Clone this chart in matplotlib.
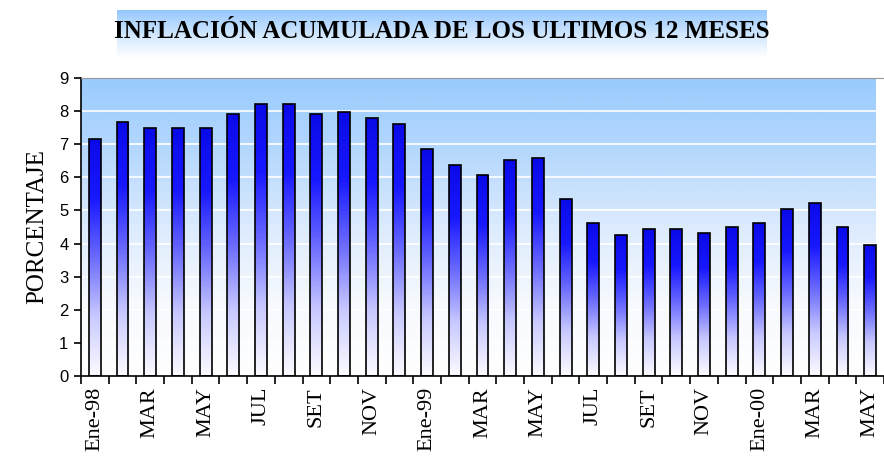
import numpy as np
import matplotlib.pyplot as plt
from matplotlib.colors import LinearSegmentedColormap

# monthly data, Ene-98 .. May-00
values = [7.17, 7.66, 7.48, 7.48, 7.48, 7.92, 8.22, 8.22, 7.92, 7.97, 7.78, 7.60,
          6.87, 6.38, 6.08, 6.52, 6.57, 5.36, 4.62, 4.26, 4.43, 4.43, 4.32, 4.50,
          4.62, 5.05, 5.23, 4.50, 3.96]
tick_labels = ["Ene-98", "MAR", "MAY", "JUL", "SET", "NOV",
               "Ene-99", "MAR", "MAY", "JUL", "SET", "NOV",
               "Ene-00", "MAR", "MAY"]
title = "INFLACIÓN ACUMULADA DE LOS ULTIMOS 12 MESES"

x = np.arange(len(values))

fig = plt.figure(figsize=(8.84, 4.59), dpi=100)
fig.patch.set_facecolor("white")

# title banner with light blue gradient
bax = fig.add_axes([117 / 884, 1 - 58 / 459, 650 / 884, 48 / 459])
bg_cmap = LinearSegmentedColormap.from_list("banner", ["#96c8fd", "#cfe6fe", "#ffffff"])
bax.imshow(np.linspace(0, 1, 100).reshape(-1, 1), aspect="auto", cmap=bg_cmap,
           extent=[0, 1, 0, 1])
bax.axis("off")
fig.text(0.5, 1 - 32 / 459, title, ha="center", va="center",
         fontsize=18, fontweight="bold", family="Liberation Serif")

ax = fig.add_axes([81 / 884, 1 - 376 / 459, 1 - 81 / 884, 298 / 459])
xmin, xmax = -0.5, 28.2
ax.set_xlim(xmin, xmax)
ax.set_ylim(0, 9)

# plot area gradient
area_cmap = LinearSegmentedColormap.from_list(
    "area", ["#ffffff", "#f6f9fe", "#dcebfd", "#b6d8fd", "#99cbfd"])
ax.imshow(np.linspace(0, 1, 200).reshape(-1, 1), aspect="auto", cmap=area_cmap,
          origin="lower", extent=[xmin, xmax, 0, 9], zorder=0)

for yv in range(1, 9):
    ax.axhline(yv, color="white", lw=1.2, zorder=1)

bar_cmap = LinearSegmentedColormap.from_list(
    "bar", ["#fbfbff", "#c8c8ff", "#6a6aff", "#1818ff", "#0a0ae8"])
bars = ax.bar(x, values, width=0.43, facecolor="none", edgecolor="black",
              linewidth=1.2, zorder=3)
for b in bars:
    bx, by = b.get_x(), b.get_y()
    w, h = b.get_width(), b.get_height()
    im = ax.imshow(np.linspace(0, 1, 100).reshape(-1, 1), aspect="auto",
                   cmap=bar_cmap, origin="lower",
                   extent=[bx, bx + w, by, by + h], zorder=2)
    im.set_clip_path(b)

ax.set_xlim(xmin, xmax)
ax.set_ylim(0, 9)

ax.set_yticks(range(0, 10))
ax.tick_params(axis="y", length=5, width=1.2, labelsize=12, pad=4)
for lab in ax.get_yticklabels():
    lab.set_family("Liberation Sans")

ax.set_xticks(x[::2])
ax.set_xticklabels(tick_labels, rotation=90, fontsize=16, family="Liberation Serif")
ax.set_xticks(np.arange(-0.5, len(values), 1.0), minor=True)
ax.tick_params(axis="x", which="major", length=0, pad=8)
ax.tick_params(axis="x", which="minor", length=6, width=1.2)

ax.set_ylabel("PORCENTAJE", fontsize=18, family="Liberation Serif", labelpad=8)

ax.spines["top"].set_color("#999999")
ax.spines["right"].set_visible(False)
ax.spines["left"].set_linewidth(1.2)
ax.spines["bottom"].set_linewidth(1.2)

fig.savefig("out.png", dpi=100)
